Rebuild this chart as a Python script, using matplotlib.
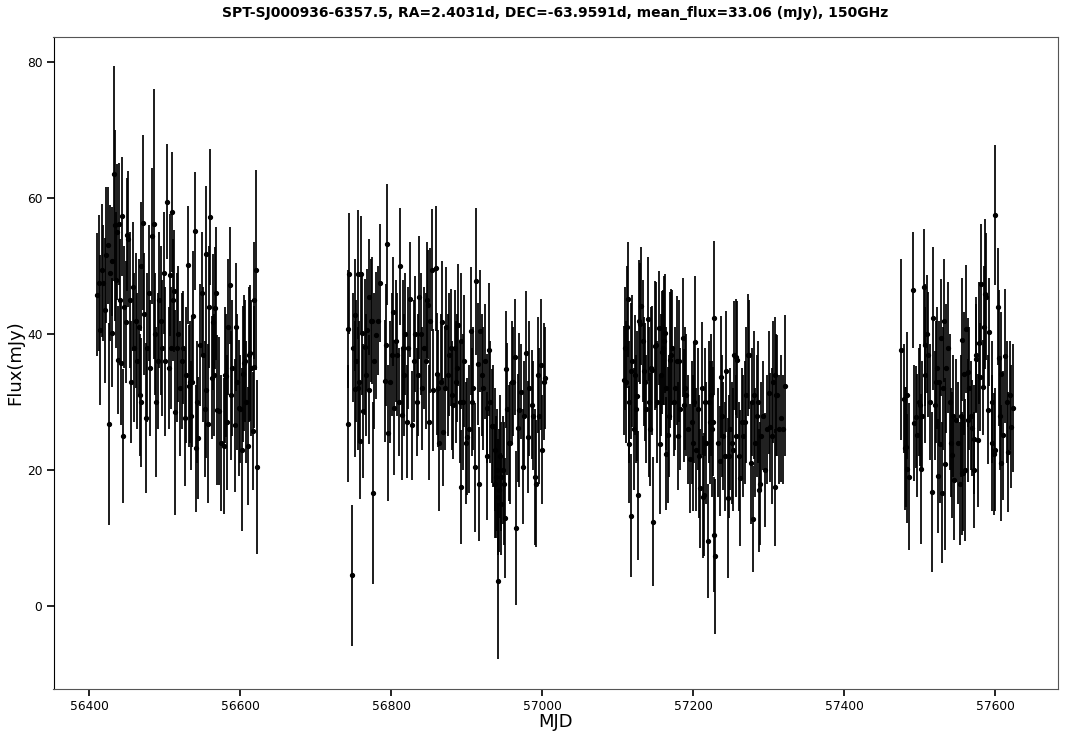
"""Light curve of SPT-SJ000936-6357.5 at 150 GHz, four observing seasons."""
import matplotlib
matplotlib.use("Agg")
import matplotlib.pyplot as plt

# values
mjd_s1 = [56411, 56413, 56415, 56417, 56419, 56421, 56423, 56425.5, 56426.4, 56428,
          56430, 56431, 56433.5, 56435, 56436, 56437, 56438.8, 56439.7, 56441, 56442.3,
          56443.6, 56445, 56447, 56448.5, 56449.8, 56452, 56454, 56456, 56458, 56460,
          56462, 56464, 56466, 56467.5, 56468.5, 56469.5, 56471.9, 56473, 56475.9, 56477,
          56479.5, 56481, 56483.4, 56485.6, 56487, 56489, 56491, 56493, 56495, 56497,
          56499, 56501, 56503.7, 56506, 56507.2, 56509, 56510.3, 56510.7, 56513, 56514,
          56516, 56518, 56520, 56522.5, 56524.9, 56526.6, 56528, 56530.6, 56532, 56534,
          56535.5, 56537, 56538, 56539.9, 56541.6, 56543, 56544.7, 56547, 56549, 56551,
          56553, 56554.9, 56555.5, 56557, 56558.5, 56560.6, 56562.8, 56563.7, 56565, 56566.8,
          56568, 56569.9, 56572, 56575, 56578.7, 56580, 56581, 56582.3, 56583.5, 56586.2,
          56588, 56590, 56592.9, 56594, 56596, 56598.6, 56600, 56602, 56604.3, 56604.8,
          56606, 56608, 56610, 56612, 56613, 56615, 56617, 56618, 56619, 56621,
          56622.9]
flux_s1 = [45.8, 47.5, 40.6, 49.4, 47.5, 43.5, 51.6, 53.1, 26.8, 49,
           50.7, 40.2, 63.6, 56, 48, 55, 36.2, 56.2, 45, 35.7,
           57.3, 25, 44, 41.8, 54.6, 54, 45, 33, 47, 38,
           42, 36, 41, 31, 30, 50, 56.4, 43, 27.7, 38,
           46, 35, 54.5, 56.2, 40, 30, 36, 45, 42, 38,
           49, 36, 59.5, 35, 48.7, 38, 58, 45, 46.3, 28.5,
           38, 40, 32, 36, 38, 27.7, 34, 50.2, 32.4, 33,
           28, 32.9, 42.7, 55.2, 23.2, 30, 24.7, 38.4, 46, 37,
           29, 51.8, 31.8, 26.8, 44, 57.2, 33.6, 41.8, 34, 43.8,
           46, 28.8, 28.7, 24, 23.5, 34, 33.9, 27, 41, 47.2,
           31, 35, 26.6, 41, 33, 29.2, 29, 23, 34.1, 35.7,
           36, 30, 23.5, 37, 37.2, 35, 25.7, 45, 35.2, 49.4,
           20.5]
err_s1 = [9, 10, 11, 9.8, 8.5, 10.7, 10, 8.6, 14.9, 10,
          8, 8, 15.8, 14, 10, 10, 8, 9, 9, 9,
          8.7, 9.9, 9, 9, 8.3, 10, 10, 9, 9.5, 11,
          10, 10, 10, 9, 9.5, 9.5, 12.9, 9, 11, 11,
          10, 10, 10, 19.8, 9, 11, 10, 10, 11, 10,
          9, 11, 8.4, 9, 9, 9, 8.8, 9, 9, 15.1,
          11, 10, 10, 10, 8.3, 10, 10, 8.7, 9, 9,
          8, 9.5, 9.5, 8.7, 9.3, 9, 9, 9, 9, 10,
          10, 10, 10, 11.7, 9, 10, 9, 10, 9, 9,
          9.8, 11, 10.9, 10, 10, 10, 9, 10, 10, 8.6,
          9.5, 10, 9.8, 9.4, 10, 10, 8, 12, 10, 10,
          9, 9, 8.7, 10, 10, 10, 8.7, 8.6, 9, 14.7,
          12.8]

mjd_s2 = [56742.6, 56743.5, 56744.8, 56747.9, 56750, 56752.3, 56752.8, 56754, 56755.8, 56756.7,
          56758, 56759, 56760.2, 56761.1, 56763.3, 56765.5, 56767, 56768.6, 56770.8, 56771.3,
          56773, 56775, 56776.6, 56778, 56779.7, 56782, 56785.8, 56792, 56793.8, 56795.1,
          56796.4, 56798, 56801, 56803, 56804.4, 56806, 56808, 56810, 56812.3, 56814.1,
          56815.5, 56817, 56819, 56821.6, 56823, 56825.6, 56828.2, 56830, 56832, 56834,
          56835.5, 56837, 56839, 56841.5, 56844, 56846, 56847.5, 56849.4, 56850, 56852,
          56854.7, 56856, 56859.1, 56860.4, 56862, 56864, 56866, 56868, 56869.3, 56871,
          56873, 56875, 56877, 56879, 56880.5, 56882.5, 56884, 56886, 56887.5, 56889.2,
          56891, 56892.7, 56893, 56895, 56897, 56899, 56900.5, 56903, 56905.5, 56907,
          56909, 56911.7, 56913, 56914.8, 56916.1, 56918.3, 56920, 56922, 56924, 56926.7,
          56926.9, 56929.8, 56931, 56933.5, 56935.5, 56937, 56938, 56939, 56940, 56941,
          56942.1, 56943, 56944, 56945, 56946, 56947.5, 56949, 56951, 56952.3, 56954,
          56956, 56958, 56960, 56962, 56964.2, 56966, 56968.6, 56970, 56971.7, 56974.4,
          56976, 56978.3, 56981, 56983, 56986.3, 56988, 56990.7, 56992, 56994, 56996,
          56998, 57000, 57002, 57004]
flux_s2 = [40.7, 26.8, 48.9, 4.5, 38, 42.8, 31.9, 36, 32, 48.8,
           33, 24.3, 48.8, 40.1, 28.7, 38.1, 34, 40.6, 45.5, 31.8,
           42, 42, 16.6, 36, 39.8, 42, 47.5, 33.1, 38.4, 53.2,
           25.4, 33, 37, 43.3, 29.2, 39, 37, 30, 50, 28.1,
           38, 34, 40, 27.1, 38, 45.1, 26.6, 36, 40, 30,
           34, 45.4, 40, 32, 38, 36, 45, 44.3, 27, 42,
           49.4, 31.8, 49.7, 34.1, 32, 24, 33, 41.8, 25.6, 32,
           41, 34, 37, 38, 31, 29.6, 38, 33, 35, 41.3,
           30, 17.5, 39, 30, 36, 24, 24.9, 26, 40.4, 30,
           32, 20.4, 47.8, 35.6, 18, 40.5, 34, 32, 36, 29.1,
           22.1, 37.7, 30, 26.5, 26.5, 18, 23, 19, 20, 16,
           3.7, 17, 22, 15, 19, 20, 18, 13, 34.8, 29,
           24, 24, 33, 33, 36.6, 11.5, 26.2, 28.8, 31.5, 20.5,
           28, 37.2, 24.9, 32, 29.6, 28, 19, 18, 34, 28,
           35.5, 23, 33, 33.5]
err_s2 = [8.7, 8.6, 8.9, 10.4, 8, 8.3, 10, 9, 9, 9.5,
          9, 8.5, 8.5, 9, 9.8, 10, 9, 9, 8.5, 8,
          9, 9.3, 13.4, 10, 9.4, 8, 8.7, 9, 9, 8.9,
          10, 9, 9, 8, 9.9, 9, 9, 8, 8.6, 9.6,
          10, 9, 9, 8.3, 9, 8.5, 8, 9, 8.5, 8,
          9, 9, 9, 9, 9, 10, 8.5, 8, 8.4, 10.6,
          9, 9, 9.2, 9, 8.6, 10, 10, 9, 8, 9,
          8.8, 9, 9, 8.6, 8, 8, 8.5, 9, 8, 9,
          9, 8.4, 10, 10, 9.7, 9, 8.6, 9.4, 9.4, 8,
          9, 9.5, 10.8, 9, 8.4, 9, 9, 9, 8.5, 8,
          9.4, 9.8, 9, 8.4, 9, 8, 9, 9, 9, 8.5,
          11.5, 9, 9, 7.5, 8, 8, 9, 8.8, 8.6, 9.7,
          8.5, 9, 9, 8, 8.5, 11.3, 8, 11.3, 7, 8.5,
          8, 9.2, 8.2, 10, 8, 8, 10, 9.3, 8.5, 10,
          9.6, 8, 8.6, 7.5]

mjd_s3 = [57109, 57110, 57110.5, 57112, 57113.5, 57114.4, 57115.5, 57117, 57117.9, 57119.5,
          57121, 57123, 57124.5, 57125.4, 57126.3, 57127.6, 57129.5, 57131.1, 57133, 57134.2,
          57136, 57138, 57139.5, 57141, 57143, 57143.5, 57145.3, 57146.6, 57148.8, 57150.5,
          57152, 57154.1, 57155.4, 57157, 57158.5, 57160, 57161.5, 57162.9, 57163.4, 57164.5,
          57166.5, 57168, 57169.5, 57171, 57172.5, 57174, 57176, 57178.4, 57180, 57181,
          57183, 57185.9, 57187.5, 57189, 57191, 57193, 57196, 57198, 57200, 57201,
          57202.7, 57204, 57206, 57207.5, 57209.3, 57211, 57212.5, 57213.7, 57215, 57217,
          57219, 57220.5, 57222, 57224, 57225.5, 57226.5, 57227.4, 57228, 57229.2, 57232.5,
          57234.9, 57236.7, 57238.5, 57240, 57241.5, 57243.7, 57245.9, 57247.5, 57249, 57251,
          57252.5, 57254.3, 57256, 57257, 57258.3, 57260, 57262.3, 57264, 57266, 57268,
          57270, 57272, 57274, 57276, 57278, 57278.6, 57280.5, 57282, 57284, 57285.5,
          57287.4, 57288.8, 57290, 57292, 57295, 57298, 57299.8, 57302, 57304, 57306,
          57307.7, 57308.6, 57310, 57311.5, 57314, 57316, 57319, 57321.9]
flux_s3 = [33.2, 37.9, 33, 41, 45.1, 23.8, 30, 13.3, 34.6, 36,
           26, 34, 29, 30.9, 16.3, 41.9, 41.5, 44.1, 39, 34.5,
           33, 29, 42.2, 30, 26, 35, 34.7, 12.4, 38.3, 38.4,
           30, 40.9, 23.8, 34, 37.3, 38, 39, 40.1, 22.4, 32,
           25.2, 28, 36.2, 37, 38, 30, 32, 36.1, 25, 36,
           29, 39.5, 29.5, 32, 31, 26, 21.7, 27, 24, 30,
           38.9, 23, 29, 22, 17.3, 32, 16, 16.4, 30, 24,
           9.6, 30, 27, 31, 26, 27.1, 42.4, 10.5, 7.3, 24,
           21.3, 33.7, 28, 25, 22, 34.5, 15.9, 22, 26, 24,
           23, 36.9, 36.6, 25, 36.2, 22, 18.8, 27, 25, 27,
           31, 36.9, 37, 21, 30, 12.8, 31, 24, 28, 30,
           17, 18, 25, 28, 20, 26, 31.4, 26.3, 25, 33,
           34, 17.5, 31, 31, 26, 27.6, 26, 32.4]
err_s3 = [8, 9, 9, 9, 8.5, 8.6, 9, 9, 10, 9.7,
          9, 8.8, 8, 9.6, 9.5, 9, 8.9, 8.7, 9, 8,
          8.7, 8, 9.1, 11, 8.3, 9, 9.5, 9.5, 9.5, 9.3,
          9, 8.4, 10.2, 9, 9, 8.5, 9.5, 8.7, 8.3, 9,
          10, 9, 10, 9.6, 8.5, 8, 9, 9.5, 8, 9,
          9, 8.7, 8.3, 9, 9, 8, 8, 9, 10, 9,
          9.6, 9, 9, 9, 8.8, 9.8, 9, 9, 8, 9,
          8.4, 9, 9, 9, 10, 8, 11.3, 8.5, 11.4, 8,
          8.1, 9, 9, 8, 8, 8.9, 11.7, 9, 9, 9,
          9, 8, 8.5, 9, 8.6, 8, 10, 8, 9, 9,
          10, 9, 8, 9, 8, 7.8, 9.4, 8, 9, 9,
          9, 9, 8, 8, 8.4, 8, 9, 8, 10, 9,
          8.5, 8.6, 9, 8.9, 8, 9.3, 8, 10.4]

mjd_s4 = [57475, 57478.6, 57480.8, 57482, 57482.5, 57483, 57486, 57490.5, 57491.8, 57494.9,
          57496.2, 57499, 57500.6, 57501.5, 57503, 57505.1, 57506.5, 57507.3, 57509, 57511,
          57513, 57515.6, 57517, 57519.6, 57521, 57522.5, 57523.6, 57525, 57527.1, 57528,
          57529.8, 57531, 57532.5, 57533.7, 57535, 57537.5, 57539.5, 57541, 57542.6, 57544,
          57545.7, 57547.9, 57550, 57552.7, 57554, 57555.8, 57555.9, 57557.5, 57558, 57560.2,
          57561.1, 57563.3, 57563.5, 57565.5, 57567.5, 57569.1, 57571.3, 57572, 57574, 57575,
          57577, 57577.9, 57580.1, 57581.4, 57583.6, 57585, 57586.7, 57588, 57589.8, 57592,
          57595, 57596, 57597.8, 57599.1, 57600, 57603.1, 57605.3, 57606, 57607.5, 57607.9,
          57610.1, 57613.2, 57615, 57617.2, 57620, 57620.7, 57622.9]
flux_s4 = [37.7, 30.5, 23.2, 23.4, 31, 20.2, 19, 46.5, 26.9, 27.8,
           25.1, 30, 29.6, 20.2, 28, 46.9, 34, 38.4, 40, 37,
           30, 16.8, 42.3, 29.5, 33, 35, 19.1, 33, 23.9, 39.5,
           16.7, 32, 42, 20.9, 35, 38, 30, 24, 22.2, 28,
           18.6, 27.3, 24, 18, 28, 39.2, 19.5, 19.5, 34.2, 20,
           40.7, 27.3, 34.4, 32, 28, 26.2, 20, 24.5, 36.4, 37,
           24.4, 38.7, 33.7, 47.3, 32.2, 41, 45.9, 45.5, 28.9, 40.3,
           30, 24, 22.4, 57.5, 23, 44, 36.5, 28, 21, 34.2,
           25.1, 36.8, 30, 22.7, 31, 26.4, 29.1]
err_s4 = [13.3, 8, 9, 8.8, 9.3, 8, 10.8, 8.5, 8.5, 7.5,
          9, 8, 9, 11, 8, 8.6, 10, 9, 8.7, 9.2,
          8.5, 11.8, 10.5, 8, 9, 9, 8.4, 9, 8.7, 8.6,
          10.3, 9, 9, 12.6, 9.5, 9.6, 10, 8, 9.3, 9,
          8.9, 9, 9, 9, 9, 9, 9, 8.5, 9, 10.5,
          9.4, 9, 8, 9, 8, 7, 8.5, 8, 8, 8.5,
          9.8, 9, 8, 8.9, 7, 9, 11, 9.3, 8, 8,
          9, 10, 9, 10.3, 9, 8.6, 10, 8, 8.5, 9,
          9.5, 9.9, 9, 8.8, 8, 9, 9.4]

TITLE = "SPT-SJ000936-6357.5, RA=2.4031d, DEC=-63.9591d, mean_flux=33.06 (mJy), 150GHz"

fig = plt.figure(figsize=(10.71, 7.39), dpi=100)
ax = fig.add_axes([53.5 / 1071, 1 - 689 / 739, (1058 - 53.5) / 1071, (689 - 37) / 739])

# thick error bars, they merge into solid black where the epochs are dense
ax.errorbar(mjd_s1 + mjd_s2 + mjd_s3 + mjd_s4,
            flux_s1 + flux_s2 + flux_s3 + flux_s4,
            yerr=err_s1 + err_s2 + err_s3 + err_s4,
            fmt="o", color="black", ms=2.8, elinewidth=1.25, capsize=0)

ax.set_xlim(56353, 57683)
ax.set_ylim(-12.2, 83.7)
ax.set_xticks([56400, 56600, 56800, 57000, 57200, 57400, 57600])
ax.set_yticks([0, 20, 40, 60, 80])
ax.tick_params(labelsize=8.8, length=5, width=1.4, color="#222222", pad=3)
for side in ["top", "right", "bottom"]:
    ax.spines[side].set_color("#555555")
ax.spines["left"].set_color("black")

ax.set_xlabel("MJD", fontsize=13, labelpad=0)
ax.set_ylabel("Flux(mJy)", fontsize=13, labelpad=2)
fig.text(555.5 / 1071, 1 - 13 / 739, TITLE, ha="center", va="center",
         fontsize=10, fontweight="bold")

fig.savefig("out.png", dpi=100)
